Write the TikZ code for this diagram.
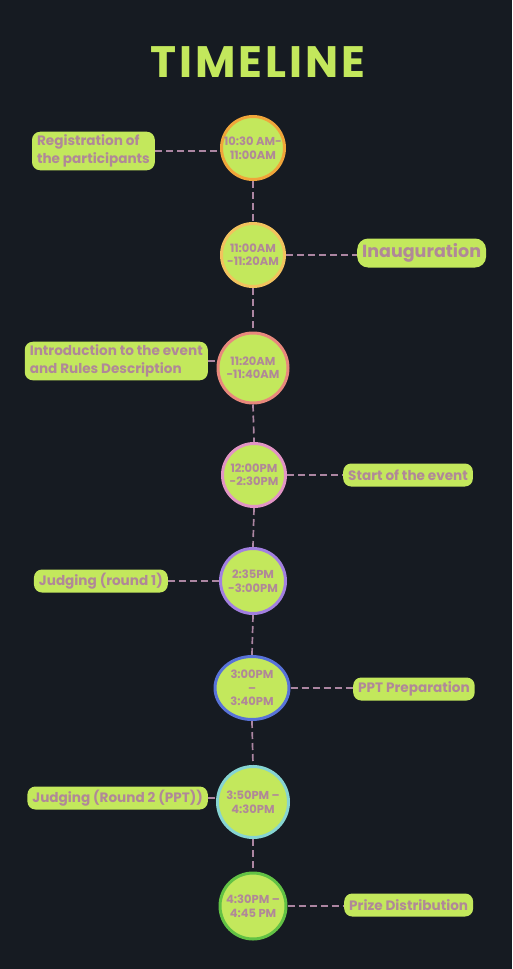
\documentclass[tikz,border=0pt]{standalone}
\usepackage{fontspec}
\setmainfont{Poppins}
\usetikzlibrary{shapes.geometric}

\definecolor{night}{HTML}{161B22}
\definecolor{lime}{HTML}{C3E85C}
\definecolor{mauve}{HTML}{B08898}
\definecolor{lilac}{HTML}{AC86A2}
\definecolor{ringA}{HTML}{F0A53A}
\definecolor{ringB}{HTML}{F2C25E}
\definecolor{ringC}{HTML}{E8887C}
\definecolor{ringD}{HTML}{E294C4}
\definecolor{ringE}{HTML}{A27FE0}
\definecolor{ringF}{HTML}{5872D8}
\definecolor{ringG}{HTML}{86D4D2}
\definecolor{ringH}{HTML}{62C244}

\tikzset{
  slot/.style={circle, fill=lime, line width=3pt, minimum size=63pt, inner sep=0pt,
    text=mauve, align=center, font=\bfseries\fontsize{11.5}{13.5}\selectfont},
  tag/.style={rounded corners=8pt, fill=lime, text=mauve, align=left,
    inner xsep=5pt, inner ysep=3pt, minimum height=23pt,
    font=\bfseries\fontsize{13.6}{18}\selectfont},
  link/.style={draw=lilac, line width=1.7pt, dash pattern=on 7pt off 4pt}
}

\begin{document}
\begin{tikzpicture}[x=1pt,y=-1pt]
            % background
            \fill[night] (0,0) rectangle (512,969);
            \useasboundingbox (0,0) rectangle (512,969);

            % title
            \node[text=lime, font=\bfseries\fontsize{44}{46}\selectfont\addfontfeatures{LetterSpace=7}] (title) at (258,62) {TIMELINE};

            % time slots
            \node[slot, draw=ringA] (c1) at (253,148) {10:30 AM-\\11:00AM};
            \node[slot, draw=ringB] (c2) at (253,255) {11:00AM\\-11:20AM};
            \node[slot, draw=ringC, minimum size=70pt] (c3) at (253,368) {11:20AM\\-11:40AM};
            \node[slot, draw=ringD] (c4) at (254,475) {12:00PM\\-2:30PM};
            \node[slot, draw=ringE, minimum size=65pt] (c5) at (253,581) {2:35PM\\-3:00PM};
            \node[slot, draw=ringF, ellipse, minimum width=74pt, minimum height=63pt] (c6) at (252,688) {3:00PM\\--\\3:40PM};
            \node[slot, draw=ringG, minimum size=71pt] (c7) at (253,802) {3:50PM --\\4:30PM};
            \node[slot, draw=ringH, minimum size=66pt] (c8) at (253,906) {4:30PM --\\4:45 PM};

            % events on the left
            \node[tag, anchor=east] (t1) at (155,151) {Registration of\\the participants};
            \node[tag, anchor=east] (t3) at (208,361) {Introduction to the event\\and Rules Description};
            \node[tag, anchor=east] (t5) at (168,581) {Judging (round 1)};
            \node[tag, anchor=east] (t7) at (208,798) {Judging (Round 2 (PPT))};

            % events on the right
            \node[tag, anchor=west, font=\bfseries\fontsize{17.5}{20}\selectfont, minimum height=29pt, rounded corners=11pt] (t2) at (357,253) {Inauguration};
            \node[tag, anchor=west] (t4) at (343,475) {Start of the event};
            \node[tag, anchor=west] (t6) at (353,689) {PPT Preparation};
            \node[tag, anchor=west] (t8) at (344,905) {Prize Distribution};

            % spine
            \draw[link] (c1.south) -- (c2.north);
            \draw[link] (c2.south) -- (c3.north);
            \draw[link] (c3.south) -- (c4.north);
            \draw[link] (c4.south) -- (c5.north);
            \draw[link] (c5.south) -- (c6.north);
            \draw[link] (c6.south) -- (c7.north);
            \draw[link] (c7.south) -- (c8.north);

            % branches
            \draw[link] (t1.east) -- (t1.east -| c1.west);
            \draw[link] (c2.east) -- (c2.east -| t2.west);
            \draw[link] (t3.east) -- (t3.east -| c3.west);
            \draw[link] (c4.east) -- (c4.east -| t4.west);
            \draw[link] (t5.east) -- (t5.east -| c5.west);
            \draw[link] (c6.east) -- (c6.east -| t6.west);
            \draw[link] (t7.east) -- (t7.east -| c7.west);
            \draw[link] (c8.east) -- (c8.east -| t8.west);
\end{tikzpicture}
\end{document}
